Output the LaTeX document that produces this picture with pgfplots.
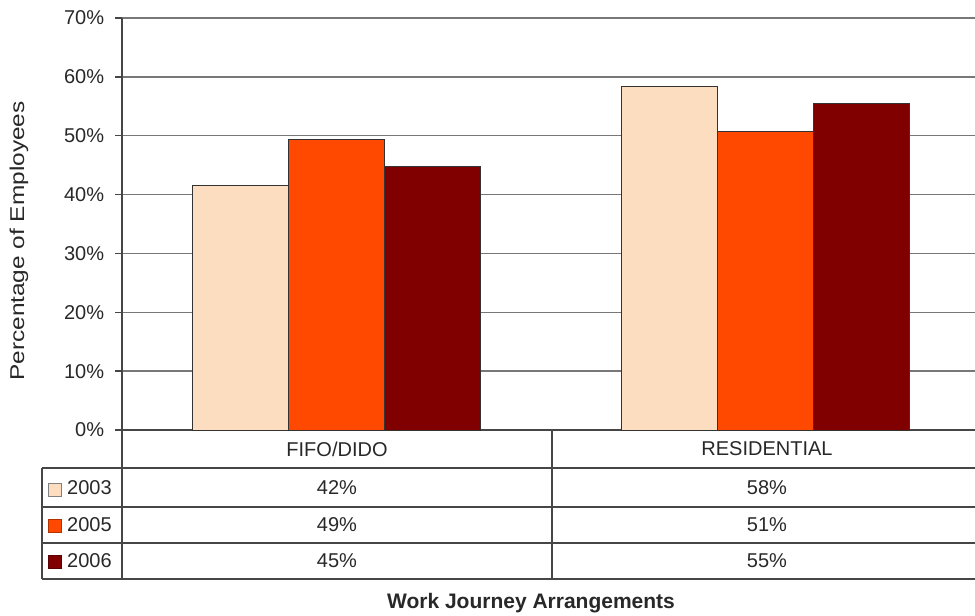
\documentclass[border=0pt]{standalone}
\usepackage{pgfplots}
\pgfplotsset{compat=1.18}
\usepackage{fontspec}
\setmainfont{Liberation Sans}
\definecolor{c03}{RGB}{253,221,192}
\definecolor{c05}{RGB}{255,72,0}
\definecolor{c06}{RGB}{128,0,0}
\definecolor{gridc}{RGB}{120,120,120}
\definecolor{linec}{RGB}{70,70,70}
\definecolor{txt}{RGB}{40,40,40}
\begin{document}
\fontsize{20bp}{24bp}\selectfont
\begin{tikzpicture}
\useasboundingbox (-122bp,-186bp) rectangle (853bp,430bp);
\begin{axis}[
  at={(0,0)}, anchor=south west,
  scale only axis, width=853bp, height=412bp,
  xmin=-0.5, xmax=1.488, ymin=0, ymax=70,
  axis y line*=left, axis x line*=bottom,
  ybar=0pt, bar width=96bp,
  xtick=\empty,
  ytick={0,10,...,70},
  yticklabel={\pgfmathprintnumber{\tick}\%},
  /pgf/number format/assume math mode=true,
  ymajorgrids,
  major grid style={gridc, line width=1.5bp},
  tick align=outside, major tick length=7bp,
  tick style={linec, line width=1.3bp},
  axis line style={linec, line width=1.3bp},
  ticklabel style={font=\fontsize{20bp}{24bp}\selectfont, text=txt},
  yticklabel style={xshift=-4bp},
  clip=false,
]
\addplot[fill=c03, draw=black!80, line width=1bp] coordinates {(0,41.6) (1,58.4)};
\addplot[fill=c05, draw=black!80, line width=1bp] coordinates {(0,49.4) (1,50.8)};
\addplot[fill=c06, draw=black!80, line width=1bp] coordinates {(0,44.8) (1,55.5)};
\end{axis}
\begin{scope}[x=1bp, y=-1bp, shift={(-122bp,430bp)}]
  \draw[linec, line width=1.3bp]
    (42,468) -- (975,468)
    (42,507) -- (975,507)
    (42,543) -- (975,543)
    (42,579) -- (975,579)
    (42,468) -- (42,579)
    (122,430) -- (122,579)
    (552,430) -- (552,579);
  \begin{scope}[every node/.style={text=txt, inner sep=0pt}]
    \node at (337,449) {FIFO/DIDO};
    \node at (767,449) {RESIDENTIAL};
    \node at (337,488) {42\%};
    \node at (767,488) {58\%};
    \node at (337,525) {49\%};
    \node at (767,525) {51\%};
    \node at (337,561) {45\%};
    \node at (767,561) {55\%};
    \node[anchor=west] at (67,488) {2003};
    \node[anchor=west] at (67,525) {2005};
    \node[anchor=west] at (67,561) {2006};
    \node[font=\fontsize{21bp}{25bp}\selectfont\bfseries] at (531,603) {Work Journey Arrangements};
    \node[rotate=90, font=\fontsize{20bp}{24bp}\selectfont] at (19,241) {\scalebox{1.22}[1]{Percentage of Employees}};
  \end{scope}
  \draw[fill=c03, draw=gray, line width=1bp] (49,484) rectangle (62,497);
  \draw[fill=c05, draw=c05!70!black, line width=1bp] (49,520) rectangle (62,533);
  \draw[fill=c06, draw=c06!70!black, line width=1bp] (49,556) rectangle (62,569);
\end{scope}
\end{tikzpicture}
\end{document}
